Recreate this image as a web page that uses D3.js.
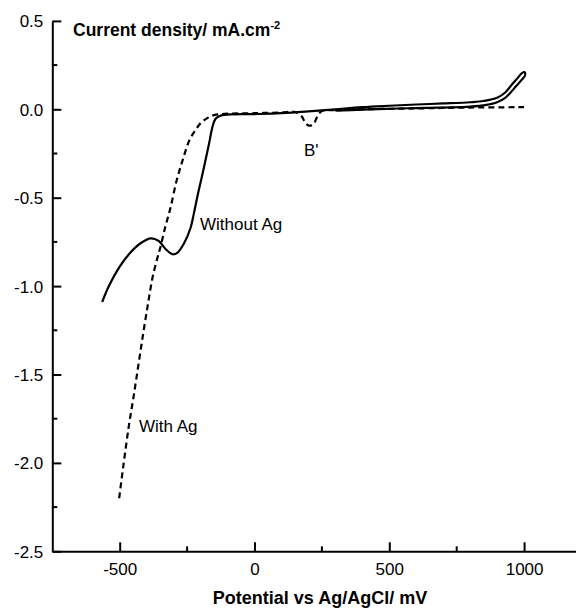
<!DOCTYPE html>
<html><head><meta charset="utf-8">
<script src="https://cdn.jsdelivr.net/npm/d3@7"></script>
<style>
body{margin:0;background:#fff;}
svg{display:block;font-family:"Liberation Sans",Arial,sans-serif;}
</style></head>
<body><svg id="c" width="576" height="608"></svg>
<script>
// Without Ag (solid): potential mV, current density mA/cm2
const withoutAgX = [-565,-540,-500,-460,-420,-385,-355,-330,-304,-285,-262,-237,-225,-210,-195,-182,-168,-156,-145,-130,-100,0,100,200,300,400,500,600,700,800,850,900,930,955,975,992,1002,1003,990,970,950,930,900,860,800,700,600,500,400,300];
const withoutAgY = [-1.09,-1.0,-0.89,-0.81,-0.755,-0.73,-0.745,-0.79,-0.82,-0.81,-0.76,-0.67,-0.59,-0.48,-0.38,-0.29,-0.19,-0.10,-0.055,-0.038,-0.03,-0.027,-0.022,-0.012,0.0,0.012,0.02,0.027,0.033,0.04,0.047,0.065,0.095,0.14,0.175,0.205,0.21,0.19,0.165,0.13,0.095,0.065,0.04,0.025,0.015,0.01,0.007,0.003,-0.002,-0.008];
// With Ag (dashed)
const withAgX = [-502,-485,-467,-449,-430,-412,-395,-378,-360,-349,-330,-312,-290,-267,-240,-220,-200,-175,-150,-100,0,100,150,175,190,205,220,235,250,300,400,600,800,1000];
const withAgY = [-2.20,-2.0,-1.80,-1.63,-1.44,-1.26,-1.10,-0.95,-0.84,-0.78,-0.66,-0.56,-0.41,-0.29,-0.17,-0.12,-0.078,-0.05,-0.033,-0.025,-0.022,-0.018,-0.015,-0.04,-0.08,-0.093,-0.08,-0.035,-0.01,-0.005,0.0,0.005,0.01,0.012];
const xTicks = [-500,0,500,1000];
const xMinor = [-250,250,750];
const yTicks = [0.5,0.0,-0.5,-1.0,-1.5,-2.0,-2.5];
const yMinor = [0.25,-0.25,-0.75,-1.25,-1.75,-2.25];

const svg = d3.select("#c");
const x = d3.scaleLinear().domain([-750,1200]).range([52.3,578]);
const y = d3.scaleLinear().domain([-2.5,0.5]).range([551.3,20.9]);

const g = svg.append("g");
const xAxis = d3.axisBottom(x).tickValues(xTicks).tickSizeInner(-9).tickSizeOuter(0).tickPadding(12).tickFormat(d=>String(d));
const xa = g.append("g").attr("transform",`translate(0,${y(-2.5)})`).call(xAxis);
const yAxis = d3.axisLeft(y).tickValues(yTicks).tickSizeInner(-9).tickSizeOuter(0).tickPadding(9).tickFormat(d=>d.toFixed(1));
const ya = g.append("g").attr("transform",`translate(${x(-750)},0)`).call(yAxis);
[xa,ya].forEach(a=>{
  a.select(".domain").attr("stroke","#000").attr("stroke-width",2);
  a.selectAll(".tick line").attr("stroke","#000").attr("stroke-width",2);
  a.selectAll(".tick text").attr("font-size",17).attr("fill","#000").attr("font-family","Liberation Sans, Arial, sans-serif");
});
ya.selectAll(".tick text").attr("dy","0.35em");
xa.selectAll(".tick text").attr("dy","0.71em");
g.append("g").selectAll("line").data(xMinor).join("line")
  .attr("x1",d=>x(d)).attr("x2",d=>x(d)).attr("y1",y(-2.5)).attr("y2",y(-2.5)-5)
  .attr("stroke","#000").attr("stroke-width",2);
g.append("g").selectAll("line").data(yMinor).join("line")
  .attr("x1",x(-750)).attr("x2",x(-750)+5).attr("y1",d=>y(d)).attr("y2",d=>y(d))
  .attr("stroke","#000").attr("stroke-width",2);

const line = d3.line().x(d=>x(d[0])).y(d=>y(d[1])).curve(d3.curveCatmullRom.alpha(0.5));
const solid = withoutAgX.map((v,i)=>[v,withoutAgY[i]]);
const dashed = withAgX.map((v,i)=>[v,withAgY[i]]);
g.append("path").attr("d",line(dashed)).attr("fill","none").attr("stroke","#000")
  .attr("stroke-width",2.2).attr("stroke-dasharray","6,4");
g.append("path").attr("d",line(solid)).attr("fill","none").attr("stroke","#000")
  .attr("stroke-width",2.2).attr("stroke-linejoin","round");

const lab = (t,px,py,opts={})=>g.append("text").attr("x",px).attr("y",py).text(t)
  .attr("font-size",opts.size||17).attr("font-weight",opts.bold?"bold":"normal")
  .attr("text-anchor",opts.anchor||"start").attr("fill","#000");
lab("Without Ag",200,230);
lab("With Ag",139,432);
lab("B'",304,156);
const t = g.append("text").attr("x",73).attr("y",36).attr("font-size",17.5).attr("font-weight","bold").attr("fill","#000");
t.append("tspan").text("Current density/ mA.cm");
t.append("tspan").text("-2").attr("font-size",11).attr("dy",-7);
lab("Potential vs Ag/AgCl/ mV",320,604,{bold:true,size:18,anchor:"middle"});
</script></body></html>
